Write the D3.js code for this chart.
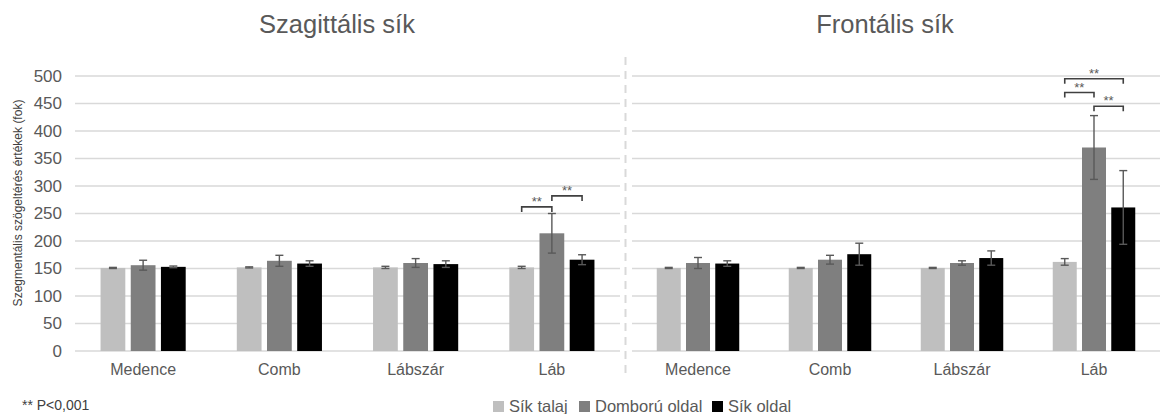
<!DOCTYPE html>
<html>
<head>
<meta charset="utf-8">
<script src="https://cdn.jsdelivr.net/npm/d3@7"></script>
<style>
  body { margin: 0; background: #fff; }
  text { font-family: "Liberation Sans", Arial, sans-serif; }
</style>
</head>
<body>
<div id="chart"></div>
<script>
// categories and series
const categories = ["Medence", "Comb", "Lábszár", "Láb"];
const seriesNames = ["Sík talaj", "Domború oldal", "Sík oldal"];
const seriesColors = ["#bfbfbf", "#7f7f7f", "#000000"];
const yTicks = [0, 50, 100, 150, 200, 250, 300, 350, 400, 450, 500];

// Szagittális sík: mean and error per series (rows = series, cols = categories)
const sagMeans = [[151, 152, 152, 152], [156, 164, 160, 214], [153, 159, 158, 166]];
const sagErrs  = [[1, 1, 2, 2], [9, 10, 8, 36], [1.5, 5, 6, 9]];
// Frontális sík
const frontMeans = [[151, 151, 151, 162], [160, 166, 160, 370], [159, 176, 169, 261]];
const frontErrs  = [[1, 1, 1, 6], [10, 8, 4, 58], [5, 20, 13, 67]];

// significance brackets: [category, from series, to series, level]
const sagSig = [["Láb", 0, 1, 262], ["Láb", 1, 2, 282]];
const frontSig = [["Láb", 0, 2, 495], ["Láb", 0, 1, 470], ["Láb", 1, 2, 445]];

const W = 1164, H = 414;
const svg = d3.select("#chart").append("svg")
    .attr("width", W)
    .attr("height", H);

const y = d3.scaleLinear().domain([0, 500]).range([351, 76]);

function panel(x0, x1, title, titleX, means, errs, sig, showAxis) {
    const x = d3.scaleBand().domain(categories).range([x0, x1]).paddingInner(0.375).paddingOuter(0.1875);
    const xs = d3.scaleBand().domain(d3.range(seriesNames.length)).range([0, x.bandwidth()]).paddingInner(0.18);
    const g = svg.append("g");

    // gridlines
    g.selectAll(".grid").data(yTicks).enter().append("line")
        .attr("x1", x0).attr("x2", x1)
        .attr("y1", d => y(d)).attr("y2", d => y(d))
        .attr("stroke", "#d9d9d9").attr("stroke-width", 1.3);

    if (showAxis) {
        const ax = g.append("g").attr("transform", "translate(" + (x0 - 12) + ",0)")
            .call(d3.axisLeft(y).tickValues(yTicks).tickSize(0).tickPadding(1));
        ax.select(".domain").remove();
        ax.selectAll("text").style("font-size", "17px").attr("fill", "#595959")
            .style("font-family", "'Liberation Sans', Arial, sans-serif");
    }

    // bars
    seriesNames.forEach((s, si) => {
        g.selectAll(".bar" + si).data(categories).enter().append("rect")
            .attr("x", d => x(d) + xs(si))
            .attr("width", xs.bandwidth())
            .attr("y", (d, ci) => y(means[si][ci]))
            .attr("height", (d, ci) => y(0) - y(means[si][ci]))
            .attr("fill", seriesColors[si]);
    });

    // error bars
    seriesNames.forEach((s, si) => {
        categories.forEach((c, ci) => {
            const cx = x(c) + xs(si) + xs.bandwidth() / 2;
            const m = means[si][ci], e = errs[si][ci];
            const eg = g.append("g").attr("stroke", "#595959").attr("stroke-width", 1.4);
            eg.append("line").attr("x1", cx).attr("x2", cx).attr("y1", y(m + e)).attr("y2", y(m - e));
            eg.append("line").attr("x1", cx - 4).attr("x2", cx + 4).attr("y1", y(m + e)).attr("y2", y(m + e));
            eg.append("line").attr("x1", cx - 4).attr("x2", cx + 4).attr("y1", y(m - e)).attr("y2", y(m - e));
        });
    });

    // significance brackets
    sig.forEach(b => {
        const xa = x(b[0]) + xs(b[1]) + xs.bandwidth() / 2;
        const xb = x(b[0]) + xs(b[2]) + xs.bandwidth() / 2;
        const yy = y(b[3]);
        g.append("path")
            .attr("d", "M" + xa + "," + (yy + 5) + "V" + yy + "H" + xb + "V" + (yy + 5))
            .attr("fill", "none").attr("stroke", "#404040").attr("stroke-width", 1.6);
        g.append("text").attr("x", (xa + xb) / 2).attr("y", yy - 1)
            .attr("text-anchor", "middle").style("font-size", "13px").attr("fill", "#595959")
            .text("**");
    });

    // category labels
    g.selectAll(".cat").data(categories).enter().append("text")
        .attr("x", d => x(d) + x.bandwidth() / 2)
        .attr("y", 375)
        .attr("text-anchor", "middle")
        .style("font-size", "16px")
        .attr("fill", "#595959")
        .text(d => d);

    // title
    g.append("text").attr("x", titleX).attr("y", 33)
        .attr("text-anchor", "middle").style("font-size", "25.5px")
        .attr("fill", "#595959").text(title);
}

panel(75, 620, "Szagittális sík", 337, sagMeans, sagErrs, sagSig, true);
panel(632, 1160, "Frontális sík", 885, frontMeans, frontErrs, frontSig, false);

// divider
svg.append("line").attr("x1", 625.5).attr("x2", 625.5).attr("y1", 57).attr("y2", 378)
    .attr("stroke", "#d9d9d9").attr("stroke-width", 2).attr("stroke-dasharray", "8,6");

// y axis title
svg.append("text")
    .attr("transform", "translate(22,203) rotate(-90)")
    .attr("text-anchor", "middle")
    .style("font-size", "12px")
    .attr("fill", "#404040")
    .text("Szegmentális szögeltérés értékek (fok)");

// footnote
svg.append("text").attr("x", 22).attr("y", 410).style("font-size", "14px")
    .attr("fill", "#404040").text("** P<0,001");

// legend
const legX = [493, 579, 712];
const leg = svg.append("g");
seriesNames.forEach((s, i) => {
    leg.append("rect").attr("x", legX[i]).attr("y", 401).attr("width", 11).attr("height", 11).attr("fill", seriesColors[i]);
    leg.append("text").attr("x", legX[i] + 16).attr("y", 412).style("font-size", "16.5px")
        .attr("fill", "#595959").text(s);
});
</script>
</body>
</html>
